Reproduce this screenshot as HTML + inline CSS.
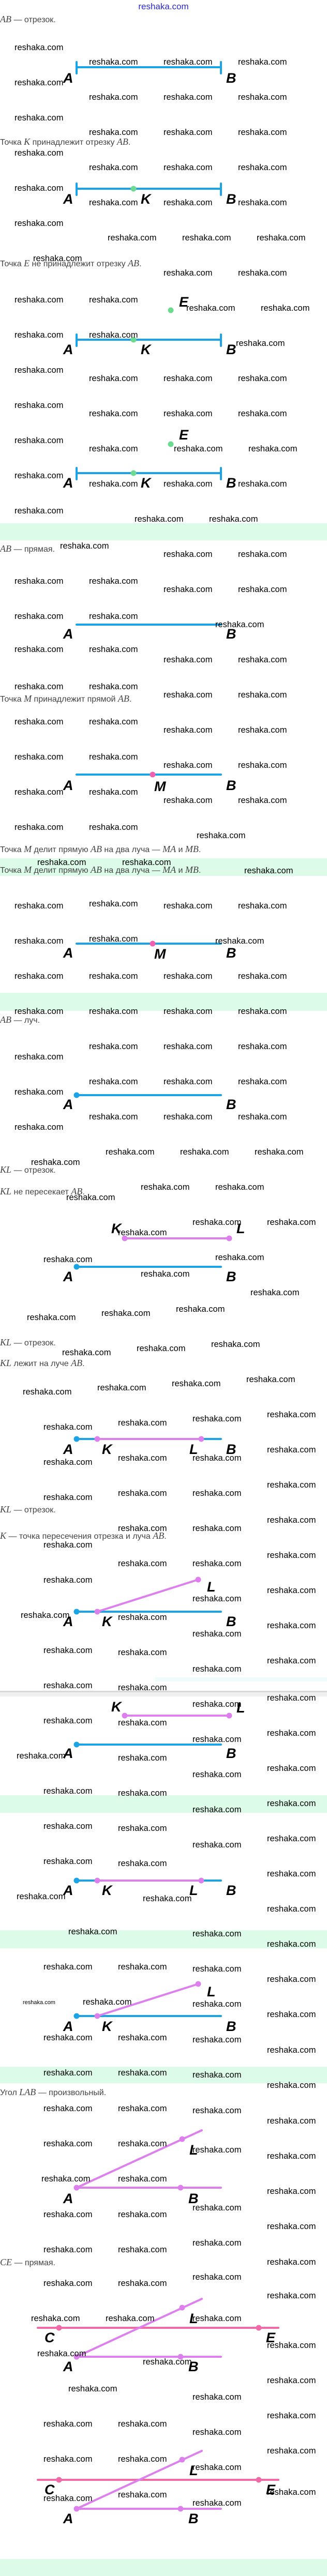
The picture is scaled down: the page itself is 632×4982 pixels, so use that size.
<!DOCTYPE html>
<html><head><meta charset="utf-8"><style>
html,body{margin:0;padding:0;background:#fff}
svg{display:block}
.w{font-family:"Liberation Sans",sans-serif;font-size:16.5px;fill:#000}
.t{font-family:"Liberation Sans",sans-serif;font-size:16px;fill:#444}
.m{font-family:"Liberation Serif",serif;font-style:italic;font-size:18px}
.L{font-family:"Liberation Sans Narrow","Liberation Sans",sans-serif;font-weight:bold;font-style:italic;font-size:27px;fill:#000}
.b{stroke:#1aa3e6;stroke-width:4;stroke-linecap:round;fill:none}
.p{stroke:#dd80ee;stroke-width:4;stroke-linecap:round;fill:none}
.r{stroke:#f06aa8;stroke-width:4;stroke-linecap:round;fill:none}
</style></head><body>
<svg width="632" height="4982" viewBox="0 0 632 4982" xmlns="http://www.w3.org/2000/svg">
<g fill="#dcfce9">
<rect x="0" y="1012" width="632" height="33"/>
<rect x="0" y="1660" width="632" height="34"/>
<rect x="0" y="1920" width="632" height="35"/>
<rect x="0" y="3472" width="632" height="34"/>
<rect x="0" y="3733" width="632" height="35"/>
<rect x="0" y="3997" width="632" height="32"/>
<rect x="0" y="4949" width="632" height="33"/>
</g>
<rect x="300" y="3244" width="332" height="8" fill="#eefcfc"/>
<rect x="0" y="3270" width="632" height="3" fill="#d8d8d8"/>
<rect x="0" y="3273" width="632" height="8" fill="#f0f0f0"/>

<text x="316" y="18" text-anchor="middle" font-family="Liberation Sans Narrow,Liberation Sans,sans-serif" font-size="17" fill="#2a2ad0">reshaka.com</text>

<g class="t">
<text x="0" y="43"><tspan class="m">AB</tspan> — отрезок.</text>
<text x="0" y="280">Точка <tspan class="m">K</tspan> принадлежит отрезку <tspan class="m">AB</tspan>.</text>
<text x="0" y="515">Точка <tspan class="m">E</tspan> не принадлежит отрезку <tspan class="m">AB</tspan>.</text>
<text x="0" y="1067"><tspan class="m">AB</tspan> — прямая.</text>
<text x="0" y="1357">Точка <tspan class="m">M</tspan> принадлежит прямой <tspan class="m">AB</tspan>.</text>
<text x="0" y="1648">Точка <tspan class="m">M</tspan> делит прямую <tspan class="m">AB</tspan> на два луча — <tspan class="m">MA</tspan> и <tspan class="m">MB</tspan>.</text>
<text x="0" y="1688">Точка <tspan class="m">M</tspan> делит прямую <tspan class="m">AB</tspan> на два луча — <tspan class="m">MA</tspan> и <tspan class="m">MB</tspan>.</text>
<text x="0" y="1978"><tspan class="m">AB</tspan> — луч.</text>
<text x="0" y="2268"><tspan class="m">KL</tspan> — отрезок.</text>
<text x="0" y="2310"><tspan class="m">KL</tspan> не пересекает <tspan class="m">AB</tspan>.</text>
<text x="0" y="2602"><tspan class="m">KL</tspan> — отрезок.</text>
<text x="0" y="2642"><tspan class="m">KL</tspan> лежит на луче <tspan class="m">AB</tspan>.</text>
<text x="0" y="2925"><tspan class="m">KL</tspan> — отрезок.</text>
<text x="0" y="2976"><tspan class="m">K</tspan> — точка пересечения отрезка и луча <tspan class="m">AB</tspan>.</text>
<text x="0" y="4052">Угол <tspan class="m">LAB</tspan> — произвольный.</text>
<text x="0" y="4381"><tspan class="m">CE</tspan> — прямая.</text>
</g>

<line class="b" x1="148" y1="130" x2="427" y2="130" stroke-linecap="butt"/>
<line class="b" x1="148" y1="120" x2="148" y2="142" stroke-linecap="butt"/>
<line class="b" x1="427" y1="120" x2="427" y2="142" stroke-linecap="butt"/>
<text class="L" x="122" y="160">A</text><text class="L" x="437" y="160">B</text>
<line class="b" x1="148" y1="365" x2="427" y2="365" stroke-linecap="butt"/>
<line class="b" x1="148" y1="355" x2="148" y2="377" stroke-linecap="butt"/>
<line class="b" x1="427" y1="355" x2="427" y2="377" stroke-linecap="butt"/>
<circle cx="258" cy="365" r="5.5" fill="#6ddb8f"/>
<text class="L" x="122" y="394">A</text><text class="L" x="272" y="394">K</text><text class="L" x="437" y="394">B</text>
<circle cx="330" cy="600" r="5.5" fill="#6ddb8f"/>
<text class="L" x="346" y="593">E</text>
<line class="b" x1="148" y1="657" x2="427" y2="657" stroke-linecap="butt"/>
<line class="b" x1="148" y1="647" x2="148" y2="669" stroke-linecap="butt"/>
<line class="b" x1="427" y1="647" x2="427" y2="669" stroke-linecap="butt"/>
<circle cx="258" cy="657" r="5.5" fill="#6ddb8f"/>
<text class="L" x="122" y="685">A</text><text class="L" x="272" y="685">K</text><text class="L" x="437" y="685">B</text>
<text class="L" x="346" y="850">E</text>
<circle cx="330" cy="859" r="5.5" fill="#6ddb8f"/>
<line class="b" x1="148" y1="915" x2="427" y2="915" stroke-linecap="butt"/>
<line class="b" x1="148" y1="905" x2="148" y2="927" stroke-linecap="butt"/>
<line class="b" x1="427" y1="905" x2="427" y2="927" stroke-linecap="butt"/>
<circle cx="258" cy="915" r="5.5" fill="#6ddb8f"/>
<text class="L" x="122" y="943">A</text><text class="L" x="272" y="943">K</text><text class="L" x="437" y="943">B</text>
<line class="b" x1="148" y1="1208" x2="427" y2="1208"/>
<text class="L" x="122" y="1235">A</text><text class="L" x="437" y="1235">B</text>
<line class="b" x1="148" y1="1498" x2="427" y2="1498"/>
<circle cx="295" cy="1498" r="5.5" fill="#f060b0"/>
<text class="L" x="122" y="1528">A</text><text class="L" x="298" y="1530">M</text><text class="L" x="437" y="1528">B</text>
<line class="b" x1="148" y1="1825" x2="427" y2="1825"/>
<circle cx="295" cy="1825" r="5.5" fill="#f060b0"/>
<text class="L" x="122" y="1852">A</text><text class="L" x="298" y="1854">M</text><text class="L" x="437" y="1852">B</text>
<line class="b" x1="148" y1="2118" x2="427" y2="2118"/><circle cx="148" cy="2118" r="5.5" fill="#1aa3e6"/>
<text class="L" x="122" y="2145">A</text><text class="L" x="437" y="2145">B</text>
<line class="p" x1="241" y1="2395" x2="443" y2="2395"/><circle cx="241" cy="2395" r="5.5" fill="#dd80ee"/><circle cx="443" cy="2395" r="5.5" fill="#dd80ee"/>
<text class="L" x="215" y="2385">K</text><text class="L" x="457" y="2385">L</text>
<line class="b" x1="148" y1="2450" x2="427" y2="2450"/><circle cx="148" cy="2450" r="5.5" fill="#1aa3e6"/>
<text class="L" x="122" y="2478">A</text><text class="L" x="437" y="2478">B</text>
<line class="b" x1="148" y1="2783" x2="427" y2="2783"/><circle cx="148" cy="2783" r="5.5" fill="#1aa3e6"/>
<line class="p" x1="188" y1="2783" x2="389" y2="2783"/><circle cx="188" cy="2783" r="5.5" fill="#dd80ee"/><circle cx="389" cy="2783" r="5.5" fill="#dd80ee"/>
<text class="L" x="122" y="2812">A</text><text class="L" x="197" y="2812">K</text><text class="L" x="366" y="2812">L</text><text class="L" x="437" y="2812">B</text>
<line class="b" x1="148" y1="3117" x2="427" y2="3117"/><circle cx="148" cy="3117" r="5.5" fill="#1aa3e6"/>
<line class="p" x1="188" y1="3117" x2="383" y2="3055"/><circle cx="188" cy="3117" r="5.5" fill="#dd80ee"/><circle cx="383" cy="3055" r="5.5" fill="#dd80ee"/>
<text class="L" x="400" y="3078">L</text>
<text class="L" x="122" y="3145">A</text><text class="L" x="197" y="3145">K</text><text class="L" x="437" y="3145">B</text>
<text class="L" x="215" y="3310">K</text><text class="L" x="457" y="3312">L</text>
<line class="p" x1="241" y1="3318" x2="443" y2="3318"/><circle cx="241" cy="3318" r="5.5" fill="#dd80ee"/><circle cx="443" cy="3318" r="5.5" fill="#dd80ee"/>
<line class="b" x1="148" y1="3374" x2="427" y2="3374"/><circle cx="148" cy="3374" r="5.5" fill="#1aa3e6"/>
<text class="L" x="122" y="3400">A</text><text class="L" x="437" y="3400">B</text>
<line class="b" x1="148" y1="3637" x2="427" y2="3637"/><circle cx="148" cy="3637" r="5.5" fill="#1aa3e6"/>
<line class="p" x1="188" y1="3637" x2="389" y2="3637"/><circle cx="188" cy="3637" r="5.5" fill="#dd80ee"/><circle cx="389" cy="3637" r="5.5" fill="#dd80ee"/>
<text class="L" x="122" y="3665">A</text><text class="L" x="197" y="3665">K</text><text class="L" x="366" y="3665">L</text><text class="L" x="437" y="3665">B</text>
<line class="b" x1="148" y1="3899" x2="427" y2="3899"/><circle cx="148" cy="3899" r="5.5" fill="#1aa3e6"/>
<line class="p" x1="188" y1="3899" x2="383" y2="3837"/><circle cx="188" cy="3899" r="5.5" fill="#dd80ee"/><circle cx="383" cy="3837" r="5.5" fill="#dd80ee"/>
<text class="L" x="400" y="3861">L</text>
<text class="L" x="122" y="3928">A</text><text class="L" x="197" y="3928">K</text><text class="L" x="437" y="3928">B</text>
<line class="p" x1="148" y1="4231" x2="390" y2="4120"/><line class="p" x1="148" y1="4231" x2="427" y2="4231"/>
<circle cx="148" cy="4231" r="5.5" fill="#dd80ee"/><circle cx="352" cy="4137" r="5.5" fill="#dd80ee"/><circle cx="349" cy="4231" r="5.5" fill="#dd80ee"/>
<text class="L" x="366" y="4167">L</text><text class="L" x="122" y="4261">A</text><text class="L" x="364" y="4261">B</text>
<g>
<line class="r" x1="73" y1="4502" x2="538" y2="4502"/><circle cx="114" cy="4502" r="5.5" fill="#f06aa8"/><circle cx="500" cy="4502" r="5.5" fill="#f06aa8"/>
<line class="p" x1="148" y1="4558" x2="390" y2="4446"/><line class="p" x1="148" y1="4558" x2="427" y2="4558"/>
<circle cx="148" cy="4558" r="5.5" fill="#dd80ee"/><circle cx="352" cy="4463" r="5.5" fill="#dd80ee"/><circle cx="349" cy="4558" r="5.5" fill="#dd80ee"/>
<text class="L" x="366" y="4493">L</text><text class="L" x="86" y="4530">C</text><text class="L" x="514" y="4530">E</text>
<text class="L" x="122" y="4586">A</text><text class="L" x="364" y="4586">B</text>
</g>
<g transform="translate(0,294)">
<line class="r" x1="73" y1="4502" x2="538" y2="4502"/><circle cx="114" cy="4502" r="5.5" fill="#f06aa8"/><circle cx="500" cy="4502" r="5.5" fill="#f06aa8"/>
<line class="p" x1="148" y1="4558" x2="390" y2="4446"/><line class="p" x1="148" y1="4558" x2="427" y2="4558"/>
<circle cx="148" cy="4558" r="5.5" fill="#dd80ee"/><circle cx="352" cy="4463" r="5.5" fill="#dd80ee"/><circle cx="349" cy="4558" r="5.5" fill="#dd80ee"/>
<text class="L" x="366" y="4493">L</text><text class="L" x="86" y="4530">C</text><text class="L" x="514" y="4530">E</text>
<text class="L" x="122" y="4586">A</text><text class="L" x="364" y="4586">B</text>
</g>

<g class="w">
<text x="28" y="97">reshaka.com</text><text x="28" y="165">reshaka.com</text><text x="28" y="233">reshaka.com</text><text x="28" y="301">reshaka.com</text><text x="28" y="369">reshaka.com</text>
<text x="172" y="125">reshaka.com</text><text x="316" y="125">reshaka.com</text><text x="460" y="125">reshaka.com</text>
<text x="172" y="193">reshaka.com</text><text x="316" y="193">reshaka.com</text><text x="460" y="193">reshaka.com</text>
<text x="172" y="261">reshaka.com</text><text x="316" y="261">reshaka.com</text><text x="460" y="261">reshaka.com</text>
<text x="172" y="329">reshaka.com</text><text x="316" y="329">reshaka.com</text><text x="460" y="329">reshaka.com</text>
<text x="172" y="397">reshaka.com</text><text x="316" y="397">reshaka.com</text><text x="460" y="397">reshaka.com</text>
<text x="28" y="437">reshaka.com</text><text x="208" y="465">reshaka.com</text><text x="352" y="465">reshaka.com</text><text x="496" y="465">reshaka.com</text>
<text x="64" y="505">reshaka.com</text><text x="316" y="533">reshaka.com</text><text x="460" y="533">reshaka.com</text>
<text x="28" y="585">reshaka.com</text><text x="172" y="585">reshaka.com</text><text x="360" y="601">reshaka.com</text><text x="504" y="601">reshaka.com</text>
<text x="28" y="653">reshaka.com</text><text x="172" y="653">reshaka.com</text><text x="456" y="669">reshaka.com</text>
<text x="28" y="721">reshaka.com</text><text x="172" y="737">reshaka.com</text><text x="316" y="737">reshaka.com</text><text x="460" y="737">reshaka.com</text>
<text x="28" y="789">reshaka.com</text><text x="172" y="805">reshaka.com</text><text x="316" y="805">reshaka.com</text><text x="460" y="805">reshaka.com</text>
<text x="28" y="857">reshaka.com</text><text x="172" y="873">reshaka.com</text><text x="336" y="873">reshaka.com</text><text x="480" y="873">reshaka.com</text>
<text x="28" y="925">reshaka.com</text><text x="172" y="941">reshaka.com</text><text x="316" y="941">reshaka.com</text><text x="460" y="941">reshaka.com</text>
<text x="28" y="993">reshaka.com</text><text x="260" y="1009">reshaka.com</text><text x="404" y="1009">reshaka.com</text>
<text x="116" y="1061">reshaka.com</text><text x="316" y="1077">reshaka.com</text><text x="460" y="1077">reshaka.com</text>
<text x="28" y="1129">reshaka.com</text><text x="172" y="1129">reshaka.com</text><text x="316" y="1145">reshaka.com</text><text x="460" y="1145">reshaka.com</text>
<text x="28" y="1197">reshaka.com</text><text x="172" y="1197">reshaka.com</text><text x="416" y="1213">reshaka.com</text>
<text x="28" y="1261">reshaka.com</text><text x="172" y="1261">reshaka.com</text><text x="316" y="1281">reshaka.com</text><text x="460" y="1281">reshaka.com</text>
<text x="28" y="1333">reshaka.com</text><text x="172" y="1333">reshaka.com</text><text x="316" y="1349">reshaka.com</text><text x="460" y="1349">reshaka.com</text>
<text x="28" y="1401">reshaka.com</text><text x="172" y="1401">reshaka.com</text><text x="316" y="1417">reshaka.com</text><text x="460" y="1417">reshaka.com</text>
<text x="28" y="1469">reshaka.com</text><text x="172" y="1469">reshaka.com</text><text x="316" y="1485">reshaka.com</text><text x="460" y="1485">reshaka.com</text>
<text x="28" y="1537">reshaka.com</text><text x="172" y="1537">reshaka.com</text><text x="316" y="1553">reshaka.com</text><text x="460" y="1553">reshaka.com</text>
<text x="28" y="1605">reshaka.com</text><text x="172" y="1605">reshaka.com</text><text x="380" y="1621">reshaka.com</text>
<text x="72" y="1673">reshaka.com</text><text x="236" y="1673">reshaka.com</text><text x="472" y="1689">reshaka.com</text>
<text x="28" y="1757">reshaka.com</text><text x="172" y="1753">reshaka.com</text><text x="316" y="1757">reshaka.com</text><text x="460" y="1757">reshaka.com</text>
<text x="28" y="1825">reshaka.com</text><text x="172" y="1821">reshaka.com</text><text x="416" y="1825">reshaka.com</text>
<text x="28" y="1893">reshaka.com</text><text x="172" y="1893">reshaka.com</text><text x="316" y="1893">reshaka.com</text><text x="460" y="1893">reshaka.com</text>
<text x="28" y="1961">reshaka.com</text><text x="172" y="1961">reshaka.com</text><text x="316" y="1961">reshaka.com</text><text x="460" y="1961">reshaka.com</text>
<text x="172" y="2029">reshaka.com</text><text x="316" y="2029">reshaka.com</text><text x="460" y="2029">reshaka.com</text><text x="28" y="2049">reshaka.com</text>
<text x="172" y="2097">reshaka.com</text><text x="316" y="2097">reshaka.com</text><text x="460" y="2097">reshaka.com</text>
<text x="28" y="2117">reshaka.com</text>
<text x="172" y="2165">reshaka.com</text><text x="316" y="2165">reshaka.com</text><text x="460" y="2165">reshaka.com</text><text x="28" y="2185">reshaka.com</text>
<text x="204" y="2233">reshaka.com</text><text x="348" y="2233">reshaka.com</text><text x="492" y="2233">reshaka.com</text><text x="60" y="2253">reshaka.com</text>
<text x="272" y="2301">reshaka.com</text><text x="416" y="2301">reshaka.com</text><text x="128" y="2321">reshaka.com</text>
<text x="372" y="2369">reshaka.com</text><text x="516" y="2369">reshaka.com</text><text x="228" y="2389">reshaka.com</text>
<text x="416" y="2437">reshaka.com</text><text x="84" y="2441">reshaka.com</text><text x="272" y="2469">reshaka.com</text><text x="484" y="2505">reshaka.com</text>
<text x="340" y="2537">reshaka.com</text><text x="196" y="2545">reshaka.com</text><text x="52" y="2553">reshaka.com</text>
<text x="408" y="2605">reshaka.com</text><text x="264" y="2613">reshaka.com</text><text x="120" y="2621">reshaka.com</text>
<text x="476" y="2673">reshaka.com</text><text x="332" y="2681">reshaka.com</text><text x="188" y="2689">reshaka.com</text><text x="44" y="2697">reshaka.com</text>
<text x="516" y="2741">reshaka.com</text><text x="372" y="2749">reshaka.com</text><text x="228" y="2757">reshaka.com</text><text x="84" y="2765">reshaka.com</text>
<text x="516" y="2809">reshaka.com</text><text x="372" y="2825">reshaka.com</text><text x="228" y="2825">reshaka.com</text><text x="84" y="2833">reshaka.com</text>
<text x="516" y="2877">reshaka.com</text><text x="372" y="2893">reshaka.com</text><text x="228" y="2893">reshaka.com</text><text x="84" y="2901">reshaka.com</text>
<text x="516" y="2945">reshaka.com</text><text x="228" y="2961">reshaka.com</text><text x="372" y="2961">reshaka.com</text>
<text x="84" y="2993">reshaka.com</text><text x="516" y="3013">reshaka.com</text><text x="228" y="3029">reshaka.com</text><text x="372" y="3029">reshaka.com</text>
<text x="84" y="3061">reshaka.com</text><text x="516" y="3081">reshaka.com</text><text x="372" y="3097">reshaka.com</text>
<text x="40" y="3129">reshaka.com</text><text x="228" y="3133">reshaka.com</text><text x="516" y="3149">reshaka.com</text><text x="372" y="3165">reshaka.com</text>
<text x="84" y="3197">reshaka.com</text><text x="228" y="3201">reshaka.com</text><text x="516" y="3217">reshaka.com</text><text x="372" y="3233">reshaka.com</text>
<text x="84" y="3265">reshaka.com</text><text x="228" y="3269">reshaka.com</text><text x="516" y="3289">reshaka.com</text><text x="372" y="3301">reshaka.com</text>
<text x="84" y="3333">reshaka.com</text><text x="228" y="3337">reshaka.com</text><text x="516" y="3357">reshaka.com</text>
<text x="372" y="3369">reshaka.com</text><text x="32" y="3401">reshaka.com</text><text x="228" y="3405">reshaka.com</text>
<text x="516" y="3425">reshaka.com</text><text x="372" y="3437">reshaka.com</text><text x="84" y="3469">reshaka.com</text><text x="228" y="3473">reshaka.com</text>
<text x="516" y="3493">reshaka.com</text><text x="372" y="3505">reshaka.com</text><text x="84" y="3537">reshaka.com</text><text x="228" y="3541">reshaka.com</text>
<text x="516" y="3561">reshaka.com</text><text x="372" y="3573">reshaka.com</text><text x="84" y="3605">reshaka.com</text><text x="228" y="3609">reshaka.com</text>
<text x="516" y="3629">reshaka.com</text><text x="32" y="3673">reshaka.com</text><text x="276" y="3677">reshaka.com</text>
<text x="516" y="3697">reshaka.com</text><text x="132" y="3741">reshaka.com</text><text x="372" y="3745">reshaka.com</text><text x="516" y="3765">reshaka.com</text>
<text x="84" y="3809">reshaka.com</text><text x="228" y="3809">reshaka.com</text><text x="372" y="3813">reshaka.com</text><text x="516" y="3833">reshaka.com</text>
<text x="160" y="3877">reshaka.com</text><text x="372" y="3881">reshaka.com</text><text x="516" y="3901">reshaka.com</text>
<text x="84" y="3946">reshaka.com</text><text x="228" y="3946">reshaka.com</text><text x="372" y="3950">reshaka.com</text><text x="516" y="3970">reshaka.com</text>
<text x="84" y="4014">reshaka.com</text><text x="228" y="4014">reshaka.com</text><text x="372" y="4018">reshaka.com</text><text x="516" y="4038">reshaka.com</text>
<text x="84" y="4083">reshaka.com</text><text x="228" y="4083">reshaka.com</text><text x="372" y="4087">reshaka.com</text><text x="516" y="4107">reshaka.com</text>
<text x="84" y="4151">reshaka.com</text><text x="228" y="4151">reshaka.com</text><text x="372" y="4163">reshaka.com</text><text x="516" y="4175">reshaka.com</text>
<text x="80" y="4219">reshaka.com</text><text x="228" y="4219">reshaka.com</text><text x="516" y="4243">reshaka.com</text>
<text x="372" y="4275">reshaka.com</text><text x="84" y="4288">reshaka.com</text><text x="228" y="4288">reshaka.com</text><text x="516" y="4311">reshaka.com</text>
<text x="372" y="4343">reshaka.com</text><text x="84" y="4356">reshaka.com</text><text x="228" y="4356">reshaka.com</text><text x="516" y="4380">reshaka.com</text>
<text x="372" y="4409">reshaka.com</text><text x="84" y="4421">reshaka.com</text><text x="228" y="4421">reshaka.com</text><text x="516" y="4445">reshaka.com</text>
<text x="60" y="4489">reshaka.com</text><text x="204" y="4489">reshaka.com</text><text x="372" y="4489">reshaka.com</text><text x="516" y="4541">reshaka.com</text>
<text x="72" y="4557">reshaka.com</text><text x="276" y="4573">reshaka.com</text>
<text x="516" y="4609">reshaka.com</text><text x="132" y="4625">reshaka.com</text><text x="372" y="4641">reshaka.com</text>
<text x="516" y="4677">reshaka.com</text><text x="84" y="4693">reshaka.com</text><text x="228" y="4693">reshaka.com</text><text x="372" y="4709">reshaka.com</text>
<text x="516" y="4745">reshaka.com</text><text x="84" y="4761">reshaka.com</text><text x="228" y="4761">reshaka.com</text><text x="372" y="4777">reshaka.com</text>
<text x="516" y="4825">reshaka.com</text><text x="228" y="4830">reshaka.com</text><text x="84" y="4837">reshaka.com</text><text x="372" y="4846">reshaka.com</text>
</g>
<text x="44" y="3876" font-family="Liberation Sans Narrow,Liberation Sans,sans-serif" font-size="11" fill="#000">reshaka.com</text>
</svg>
</body></html>
